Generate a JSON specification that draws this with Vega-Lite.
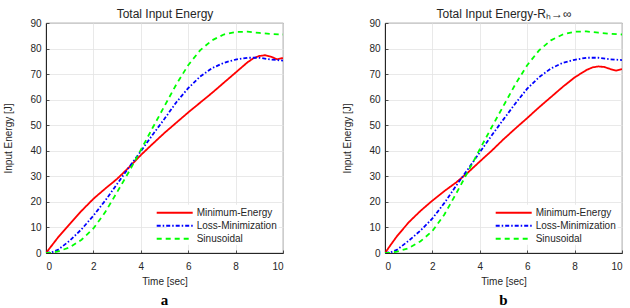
{
  "$schema": "https://vega.github.io/schema/vega-lite/v6.json",
  "background": "white",
  "padding": {"left": 3, "top": 6, "right": 4, "bottom": 0},
  "config": {
    "font": "Liberation Sans",
    "view": {"stroke": "#262626", "strokeWidth": 0.8},
    "axis": {
      "labelFont": "Liberation Sans", "labelFontSize": 10, "labelColor": "#262626",
      "titleFont": "Liberation Sans", "titleFontSize": 10, "titleFontWeight": "normal", "titleColor": "#262626",
      "gridColor": "#e3e3e3", "gridWidth": 0.8, "domainColor": "#262626",
      "ticks": true, "tickSize": -3, "tickColor": "#262626", "tickWidth": 0.8
    },
    "legend": {
      "orient": "none", "legendX": 120.7, "legendY": 181.7, "title": null,
      "symbolType": "M-3,0H3", "symbolSize": 144, "symbolStrokeWidth": 2,
      "labelFont": "Liberation Sans", "labelFontSize": 10, "labelColor": "#262626",
      "labelOffset": 15, "rowPadding": 1, "fillColor": "white", "padding": 1
    },
    "concat": {"spacing": 58}
  },
  "datasets": {
    "a": [
      {"t": 0, "s": "Minimum-Energy", "e": 0}, {"t": 0.25, "s": "Minimum-Energy", "e": 3}, {"t": 0.5, "s": "Minimum-Energy", "e": 6}, {"t": 1, "s": "Minimum-Energy", "e": 11.3}, {"t": 1.5, "s": "Minimum-Energy", "e": 16.5}, {"t": 2, "s": "Minimum-Energy", "e": 21.2}, {"t": 2.5, "s": "Minimum-Energy", "e": 25.2}, {"t": 3, "s": "Minimum-Energy", "e": 29}, {"t": 3.5, "s": "Minimum-Energy", "e": 33.5}, {"t": 4, "s": "Minimum-Energy", "e": 38.3}, {"t": 4.5, "s": "Minimum-Energy", "e": 42.7}, {"t": 5, "s": "Minimum-Energy", "e": 47}, {"t": 5.5, "s": "Minimum-Energy", "e": 51}, {"t": 6, "s": "Minimum-Energy", "e": 55}, {"t": 6.5, "s": "Minimum-Energy", "e": 58.8}, {"t": 7, "s": "Minimum-Energy", "e": 62.6}, {"t": 7.5, "s": "Minimum-Energy", "e": 66.6}, {"t": 8, "s": "Minimum-Energy", "e": 70.6}, {"t": 8.5, "s": "Minimum-Energy", "e": 74.6}, {"t": 8.75, "s": "Minimum-Energy", "e": 76.2}, {"t": 9, "s": "Minimum-Energy", "e": 77.1}, {"t": 9.25, "s": "Minimum-Energy", "e": 77.4}, {"t": 9.5, "s": "Minimum-Energy", "e": 76.8}, {"t": 9.75, "s": "Minimum-Energy", "e": 75.8}, {"t": 10, "s": "Minimum-Energy", "e": 76.3},
      {"t": 0, "s": "Loss-Minimization", "e": 0}, {"t": 0.25, "s": "Loss-Minimization", "e": 0.3}, {"t": 0.5, "s": "Loss-Minimization", "e": 1.2}, {"t": 1, "s": "Loss-Minimization", "e": 4.8}, {"t": 1.5, "s": "Loss-Minimization", "e": 9.3}, {"t": 2, "s": "Loss-Minimization", "e": 14.6}, {"t": 2.5, "s": "Loss-Minimization", "e": 20.5}, {"t": 3, "s": "Loss-Minimization", "e": 27}, {"t": 3.5, "s": "Loss-Minimization", "e": 33.5}, {"t": 4, "s": "Loss-Minimization", "e": 39.8}, {"t": 4.5, "s": "Loss-Minimization", "e": 46.3}, {"t": 5, "s": "Loss-Minimization", "e": 52.5}, {"t": 5.5, "s": "Loss-Minimization", "e": 59}, {"t": 6, "s": "Loss-Minimization", "e": 64.5}, {"t": 6.5, "s": "Loss-Minimization", "e": 69}, {"t": 7, "s": "Loss-Minimization", "e": 72.3}, {"t": 7.5, "s": "Loss-Minimization", "e": 74.4}, {"t": 8, "s": "Loss-Minimization", "e": 75.7}, {"t": 8.5, "s": "Loss-Minimization", "e": 76.4}, {"t": 9, "s": "Loss-Minimization", "e": 76.4}, {"t": 9.5, "s": "Loss-Minimization", "e": 75.7}, {"t": 10, "s": "Loss-Minimization", "e": 75.3},
      {"t": 0, "s": "Sinusoidal", "e": 0}, {"t": 0.25, "s": "Sinusoidal", "e": 0.1}, {"t": 0.5, "s": "Sinusoidal", "e": 0.6}, {"t": 1, "s": "Sinusoidal", "e": 2.2}, {"t": 1.5, "s": "Sinusoidal", "e": 5.2}, {"t": 2, "s": "Sinusoidal", "e": 9.6}, {"t": 2.5, "s": "Sinusoidal", "e": 16}, {"t": 3, "s": "Sinusoidal", "e": 23.8}, {"t": 3.5, "s": "Sinusoidal", "e": 31.8}, {"t": 4, "s": "Sinusoidal", "e": 40.3}, {"t": 4.5, "s": "Sinusoidal", "e": 49}, {"t": 5, "s": "Sinusoidal", "e": 57.5}, {"t": 5.5, "s": "Sinusoidal", "e": 66}, {"t": 6, "s": "Sinusoidal", "e": 73.5}, {"t": 6.5, "s": "Sinusoidal", "e": 79.3}, {"t": 7, "s": "Sinusoidal", "e": 83.2}, {"t": 7.5, "s": "Sinusoidal", "e": 85.5}, {"t": 8, "s": "Sinusoidal", "e": 86.5}, {"t": 8.5, "s": "Sinusoidal", "e": 86.6}, {"t": 9, "s": "Sinusoidal", "e": 86.1}, {"t": 9.5, "s": "Sinusoidal", "e": 85.7}, {"t": 10, "s": "Sinusoidal", "e": 85.5}
    ],
    "b": [
      {"t": 0, "s": "Minimum-Energy", "e": 0}, {"t": 0.25, "s": "Minimum-Energy", "e": 3.3}, {"t": 0.5, "s": "Minimum-Energy", "e": 6.5}, {"t": 1, "s": "Minimum-Energy", "e": 12}, {"t": 1.5, "s": "Minimum-Energy", "e": 16.5}, {"t": 2, "s": "Minimum-Energy", "e": 20.5}, {"t": 2.5, "s": "Minimum-Energy", "e": 24.2}, {"t": 3, "s": "Minimum-Energy", "e": 27.6}, {"t": 3.5, "s": "Minimum-Energy", "e": 31.5}, {"t": 4, "s": "Minimum-Energy", "e": 35.8}, {"t": 4.5, "s": "Minimum-Energy", "e": 40}, {"t": 5, "s": "Minimum-Energy", "e": 44.5}, {"t": 5.5, "s": "Minimum-Energy", "e": 48.7}, {"t": 6, "s": "Minimum-Energy", "e": 52.8}, {"t": 6.5, "s": "Minimum-Energy", "e": 57}, {"t": 7, "s": "Minimum-Energy", "e": 61}, {"t": 7.5, "s": "Minimum-Energy", "e": 65}, {"t": 8, "s": "Minimum-Energy", "e": 68.7}, {"t": 8.5, "s": "Minimum-Energy", "e": 71.6}, {"t": 8.75, "s": "Minimum-Energy", "e": 72.6}, {"t": 9, "s": "Minimum-Energy", "e": 73}, {"t": 9.25, "s": "Minimum-Energy", "e": 72.8}, {"t": 9.5, "s": "Minimum-Energy", "e": 72}, {"t": 9.75, "s": "Minimum-Energy", "e": 71.4}, {"t": 10, "s": "Minimum-Energy", "e": 72},
      {"t": 0, "s": "Loss-Minimization", "e": 0}, {"t": 0.25, "s": "Loss-Minimization", "e": 0.3}, {"t": 0.5, "s": "Loss-Minimization", "e": 1.2}, {"t": 1, "s": "Loss-Minimization", "e": 4.8}, {"t": 1.5, "s": "Loss-Minimization", "e": 8.8}, {"t": 2, "s": "Loss-Minimization", "e": 13.5}, {"t": 2.5, "s": "Loss-Minimization", "e": 19.5}, {"t": 3, "s": "Loss-Minimization", "e": 26.3}, {"t": 3.5, "s": "Loss-Minimization", "e": 32.8}, {"t": 4, "s": "Loss-Minimization", "e": 39.4}, {"t": 4.5, "s": "Loss-Minimization", "e": 46}, {"t": 5, "s": "Loss-Minimization", "e": 52.3}, {"t": 5.5, "s": "Loss-Minimization", "e": 58.5}, {"t": 6, "s": "Loss-Minimization", "e": 64.3}, {"t": 6.5, "s": "Loss-Minimization", "e": 68.8}, {"t": 7, "s": "Loss-Minimization", "e": 72.2}, {"t": 7.5, "s": "Loss-Minimization", "e": 74.4}, {"t": 8, "s": "Loss-Minimization", "e": 75.6}, {"t": 8.5, "s": "Loss-Minimization", "e": 76.4}, {"t": 9, "s": "Loss-Minimization", "e": 76.4}, {"t": 9.5, "s": "Loss-Minimization", "e": 75.8}, {"t": 10, "s": "Loss-Minimization", "e": 75.5},
      {"t": 0, "s": "Sinusoidal", "e": 0}, {"t": 0.25, "s": "Sinusoidal", "e": 0.1}, {"t": 0.5, "s": "Sinusoidal", "e": 0.5}, {"t": 1, "s": "Sinusoidal", "e": 1.9}, {"t": 1.5, "s": "Sinusoidal", "e": 4.6}, {"t": 2, "s": "Sinusoidal", "e": 8.6}, {"t": 2.5, "s": "Sinusoidal", "e": 15}, {"t": 3, "s": "Sinusoidal", "e": 23.2}, {"t": 3.5, "s": "Sinusoidal", "e": 31.8}, {"t": 4, "s": "Sinusoidal", "e": 40.6}, {"t": 4.5, "s": "Sinusoidal", "e": 49.2}, {"t": 5, "s": "Sinusoidal", "e": 57.6}, {"t": 5.5, "s": "Sinusoidal", "e": 66}, {"t": 6, "s": "Sinusoidal", "e": 73.5}, {"t": 6.5, "s": "Sinusoidal", "e": 79.3}, {"t": 7, "s": "Sinusoidal", "e": 83.2}, {"t": 7.5, "s": "Sinusoidal", "e": 85.5}, {"t": 8, "s": "Sinusoidal", "e": 86.6}, {"t": 8.5, "s": "Sinusoidal", "e": 86.7}, {"t": 9, "s": "Sinusoidal", "e": 86.2}, {"t": 9.5, "s": "Sinusoidal", "e": 85.8}, {"t": 10, "s": "Sinusoidal", "e": 85.5}
    ]
  },
  "resolve": {
    "scale": {"color": "independent", "strokeDash": "independent"},
    "legend": {"color": "independent", "strokeDash": "independent"}
  },
  "hconcat": [
    {
      "width": 237, "height": 230,
      "data": {"name": "a"},
      "title": {"text": "a", "orient": "bottom", "font": "Liberation Serif", "fontSize": 15, "fontWeight": "bold", "color": "black", "offset": 7},
      "resolve": {"axis": {"x": "independent"}},
      "layer": [
        {
          "mark": {"type": "line", "strokeWidth": 1.8, "clip": true},
          "encoding": {
            "x": {"field": "t", "type": "quantitative", "scale": {"domain": [0, 10], "nice": false},
                  "axis": {"title": "Time [sec]", "values": [0, 2, 4, 6, 8, 10], "labelPadding": 11, "titlePadding": 5}},
            "y": {"field": "e", "type": "quantitative", "scale": {"domain": [0, 90], "nice": false},
                  "axis": {"title": "Input Energy [J]", "values": [0, 10, 20, 30, 40, 50, 60, 70, 80, 90], "labelPadding": 8, "titlePadding": 16}},
            "color": {"field": "s", "type": "nominal", "sort": ["Minimum-Energy", "Loss-Minimization", "Sinusoidal"],
                      "scale": {"domain": ["Minimum-Energy", "Loss-Minimization", "Sinusoidal"], "range": ["#ff0000", "#0000ff", "#00ff00"]}},
            "strokeDash": {"field": "s", "type": "nominal", "sort": ["Minimum-Energy", "Loss-Minimization", "Sinusoidal"],
                      "scale": {"domain": ["Minimum-Energy", "Loss-Minimization", "Sinusoidal"], "range": [[1, 0], [4, 2, 1.5, 2], [5, 4]]}}
          }
        },
        {
          "data": {"values": [{"t": 0}]},
          "mark": {"type": "rule", "opacity": 0},
          "encoding": {
            "x": {"field": "t", "type": "quantitative",
                  "axis": {"orient": "top", "title": "Total Input Energy", "labels": false, "ticks": false, "domain": false, "grid": false, "titleFontSize": 12, "titlePadding": 3}}
          }
        }
      ]
    },
    {
      "width": 237, "height": 230,
      "data": {"name": "b"},
      "title": {"text": "b", "orient": "bottom", "font": "Liberation Serif", "fontSize": 15, "fontWeight": "bold", "color": "black", "offset": 7},
      "resolve": {"axis": {"x": "independent"}},
      "layer": [
        {
          "mark": {"type": "line", "strokeWidth": 1.8, "clip": true},
          "encoding": {
            "x": {"field": "t", "type": "quantitative", "scale": {"domain": [0, 10], "nice": false},
                  "axis": {"title": "Time [sec]", "values": [0, 2, 4, 6, 8, 10], "labelPadding": 11, "titlePadding": 5}},
            "y": {"field": "e", "type": "quantitative", "scale": {"domain": [0, 90], "nice": false},
                  "axis": {"title": "Input Energy [J]", "values": [0, 10, 20, 30, 40, 50, 60, 70, 80, 90], "labelPadding": 8, "titlePadding": 16}},
            "color": {"field": "s", "type": "nominal", "sort": ["Minimum-Energy", "Loss-Minimization", "Sinusoidal"],
                      "scale": {"domain": ["Minimum-Energy", "Loss-Minimization", "Sinusoidal"], "range": ["#ff0000", "#0000ff", "#00ff00"]}},
            "strokeDash": {"field": "s", "type": "nominal", "sort": ["Minimum-Energy", "Loss-Minimization", "Sinusoidal"],
                      "scale": {"domain": ["Minimum-Energy", "Loss-Minimization", "Sinusoidal"], "range": [[1, 0], [4, 2, 1.5, 2], [5, 4]]}}
          }
        },
        {
          "data": {"values": [{"t": 0}]},
          "mark": {"type": "rule", "opacity": 0},
          "encoding": {
            "x": {"field": "t", "type": "quantitative",
                  "axis": {"orient": "top", "title": "Total Input Energy-Rₕ→∞", "labels": false, "ticks": false, "domain": false, "grid": false, "titleFontSize": 12, "titlePadding": 3}}
          }
        }
      ]
    }
  ]
}
